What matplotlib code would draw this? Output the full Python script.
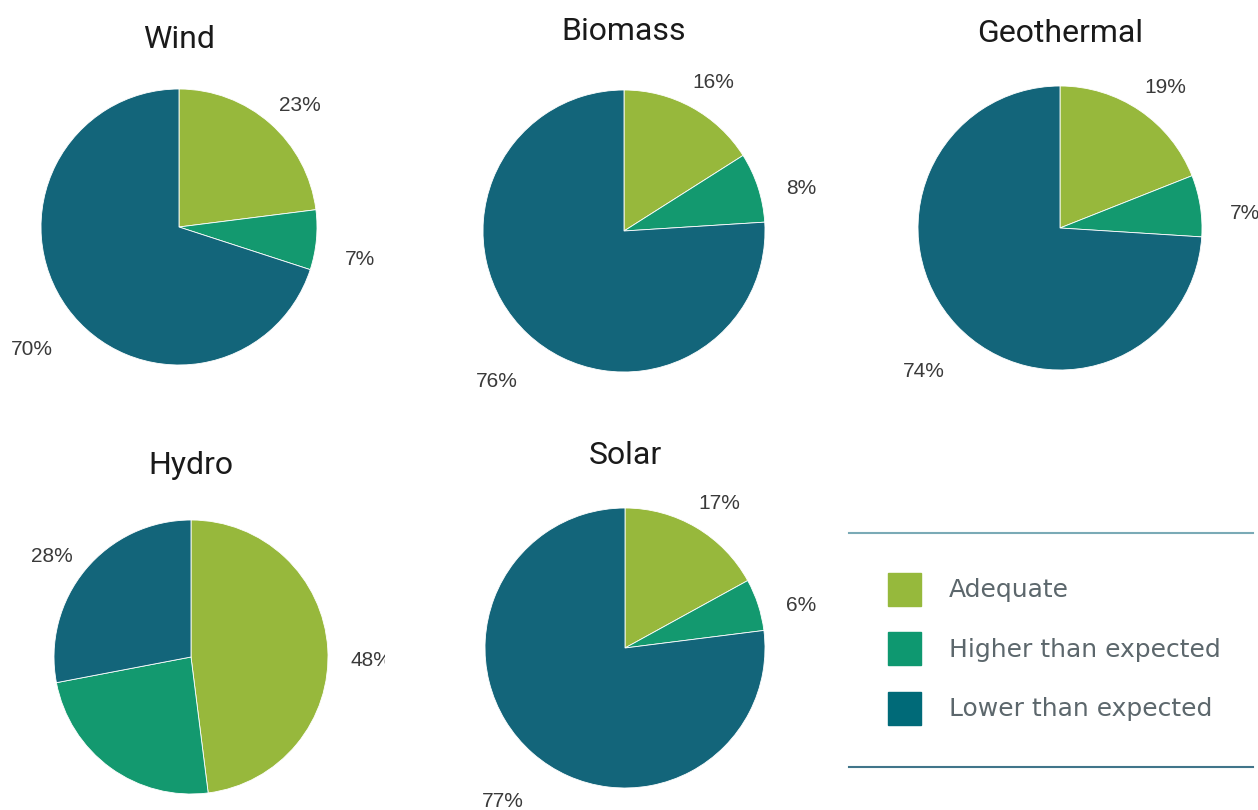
import matplotlib.pyplot as plt
from matplotlib.patches import Rectangle
from matplotlib.lines import Line2D
from matplotlib.transforms import Bbox

# data
sources = ["Wind", "Biomass", "Geothermal", "Hydro", "Solar"]
categories = ["Adequate", "Higher than expected", "Lower than expected"]
adequate = [23, 16, 19, 48, 17]
higher = [7, 8, 7, 24, 6]
lower = [70, 76, 74, 28, 77]
# hydro's "higher" label is not shown in the original
show_label = [[True, True, True], [True, True, True], [True, True, True],
              [True, False, True], [True, True, True]]

colors = ["#97b83c", "#13996f", "#13657a"]
legend_colors = ["#96b93c", "#0e9870", "#006a78"]

# layout in pixels: pie centre x, centre y, radius, title y
W, H = 1258, 810
layout = [(179, 227, 138, 40), (624, 231, 141, 32), (1060, 228, 142, 33),
          (191, 657, 137, 465), (625, 648, 140, 455)]

fig = plt.figure(figsize=(W / 100, H / 100), dpi=100)
fig.patch.set_facecolor("white")

lim = 1.6
for i, name in enumerate(sources):
    cx, cy, r, ty = layout[i]
    size = 2 * lim * r
    ax = fig.add_axes([(cx - size / 2) / W, 1 - (cy + size / 2) / H, size / W, size / H])
    vals = [adequate[i], higher[i], lower[i]]
    labels = [f"{v}%" if s else "" for v, s in zip(vals, show_label[i])]
    wedges, texts = ax.pie(vals, colors=colors, startangle=90, counterclock=False,
                           labels=labels, labeldistance=1.32,
                           wedgeprops=dict(linewidth=0.6, edgecolor="white"),
                           textprops=dict(fontsize=15, color="#3a3a3a",
                                          family="Liberation Sans"))
    for t in texts:
        t.set_horizontalalignment("center")
        t.set_verticalalignment("center")
        x, y = t.get_position()
        t.set_position((x, y - 15 / r))
        if name == "Hydro":
            # the original picture is cut off just right of the hydro pie
            t.set_clip_box(Bbox.from_extents(0, 0, 385, H))
            t.set_clip_on(True)
    ax.set_xlim(-lim, lim)
    ax.set_ylim(-lim, lim)
    ax.set_aspect("equal")
    ax.axis("off")
    ax.text(0, (cy - ty) / r, name, ha="center", va="center", fontsize=23,
            family="Roboto", color="#1a1a1a", clip_on=False)

# legend panel
lax = fig.add_axes([0, 0, 1, 1])
lax.set_xlim(0, W)
lax.set_ylim(H, 0)
lax.axis("off")
lax.add_line(Line2D([849, 1253], [533, 533], color="#7aaab6", lw=1.5))
lax.add_line(Line2D([849, 1253], [767, 767], color="#41758a", lw=1.5))
for j, (cat, col) in enumerate(zip(categories, legend_colors)):
    yc = 589 + j * 59.5
    lax.add_patch(Rectangle((888, yc - 16.5), 33, 33, color=col))
    lax.text(949, yc + 1, cat, ha="left", va="center", fontsize=18,
             family="DejaVu Sans", color="#5c676c")

fig.savefig("out.png", dpi=100)
